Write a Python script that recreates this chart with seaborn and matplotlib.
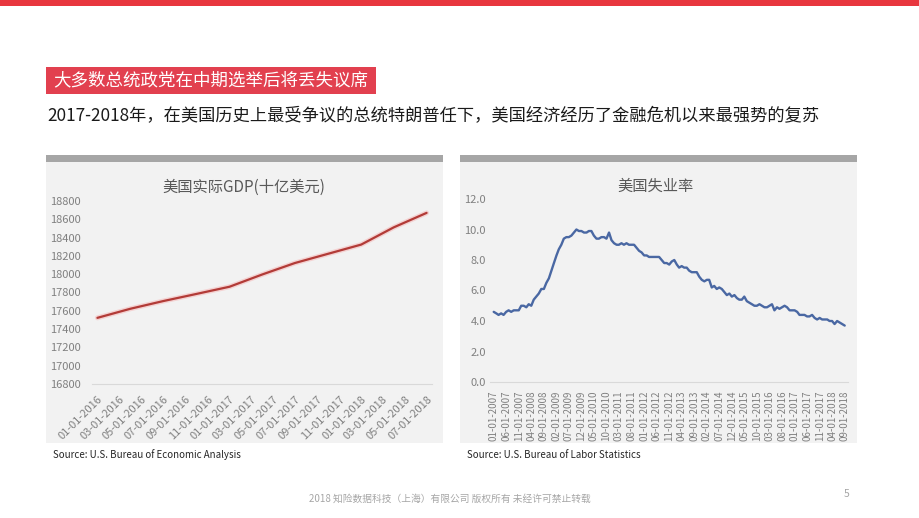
import matplotlib
matplotlib.use("Agg")
import matplotlib.pyplot as plt
import matplotlib.dates as mdates
import matplotlib.ticker as mticker
from matplotlib.patches import Rectangle
import seaborn as sns
import pandas as pd

# ---------------- data ----------------
gdp_dates = ["2016-01-01", "2016-04-01", "2016-07-01", "2016-10-01",
             "2017-01-01", "2017-04-01", "2017-07-01", "2017-10-01",
             "2018-01-01", "2018-04-01", "2018-07-01"]
gdp_values = [17523, 17622, 17706, 17784, 17863, 17996, 18122, 18223,
              18324, 18512, 18670]
gdp_yticks = [16800, 17000, 17200, 17400, 17600, 17800, 18000, 18200,
              18400, 18600, 18800]

unrate_start = "2007-01-01"
unrate_values = [
    4.6, 4.5, 4.4, 4.5, 4.4, 4.6, 4.7, 4.6, 4.7, 4.7, 4.7, 5.0,   # 2007
    5.0, 4.9, 5.1, 5.0, 5.4, 5.6, 5.8, 6.1, 6.1, 6.5, 6.8, 7.3,   # 2008
    7.8, 8.3, 8.7, 9.0, 9.4, 9.5, 9.5, 9.6, 9.8, 10.0, 9.9, 9.9,  # 2009
    9.8, 9.8, 9.9, 9.9, 9.6, 9.4, 9.4, 9.5, 9.5, 9.4, 9.8, 9.3,   # 2010
    9.1, 9.0, 9.0, 9.1, 9.0, 9.1, 9.0, 9.0, 9.0, 8.8, 8.6, 8.5,   # 2011
    8.3, 8.3, 8.2, 8.2, 8.2, 8.2, 8.2, 8.0, 7.8, 7.8, 7.7, 7.9,   # 2012
    8.0, 7.7, 7.5, 7.6, 7.5, 7.5, 7.3, 7.2, 7.2, 7.2, 6.9, 6.7,   # 2013
    6.6, 6.7, 6.7, 6.2, 6.3, 6.1, 6.2, 6.1, 5.9, 5.7, 5.8, 5.6,   # 2014
    5.7, 5.5, 5.4, 5.4, 5.6, 5.3, 5.2, 5.1, 5.0, 5.0, 5.1, 5.0,   # 2015
    4.9, 4.9, 5.0, 5.1, 4.7, 4.9, 4.8, 4.9, 5.0, 4.9, 4.7, 4.7,   # 2016
    4.7, 4.6, 4.4, 4.4, 4.4, 4.3, 4.3, 4.4, 4.2, 4.1, 4.2, 4.1,   # 2017
    4.1, 4.1, 4.0, 4.0, 3.8, 4.0, 3.9, 3.8, 3.7,                  # 2018
]
unrate_yticks = [0, 2, 4, 6, 8, 10, 12]

header_tag = "大多数总统政党在中期选举后将丢失议席"
subtitle = "2017-2018年，在美国历史上最受争议的总统特朗普任下，美国经济经历了金融危机以来最强势的复苏"
title_gdp = "美国实际GDP(十亿美元)"
title_unrate = "美国失业率"
source_gdp = "Source: U.S. Bureau of Economic Analysis"
source_unrate = "Source: U.S. Bureau of Labor Statistics"
footer = "2018 知险数据科技（上海）有限公司 版权所有 未经许可禁止转载"
page_no = "5"

# ---------------- style ----------------
sns.set_theme(style="white")
plt.rcParams["font.family"] = ["Noto Sans CJK SC", "DejaVu Sans"]

W, H = 920, 518
fig = plt.figure(figsize=(W / 100, H / 100), dpi=100)
fig.patch.set_facecolor("white")


def fx(x):
    return x / W


def fy(y):
    return 1 - y / H


def rect_px(x0, y0, x1, y1, color):
    fig.patches.append(Rectangle((fx(x0), fy(y1)), (x1 - x0) / W, (y1 - y0) / H,
                                 transform=fig.transFigure, facecolor=color,
                                 edgecolor="none", zorder=-10))


# top red bar
rect_px(0, 0, W, 6, "#e8363e")
# tag box
rect_px(46, 67, 376, 94, "#e2404f")
fig.text(fx(53), fy(80.5), header_tag, color="white", fontsize=12.6,
         va="center", ha="left")
fig.text(fx(47), fy(116.5), subtitle, color="#1a1a1a", fontsize=12.4,
         va="center", ha="left")

# panels
for (x0, x1) in [(46, 443), (460, 857)]:
    rect_px(x0, 162, x1, 443, "#f2f2f2")
    rect_px(x0, 155, x1, 162, "#a6a6a6")

tick_color = "#808080"

# ---------------- GDP chart ----------------
gdp_df = pd.DataFrame({"date": pd.to_datetime(gdp_dates), "gdp": gdp_values})
ax1 = fig.add_axes([fx(92), fy(384), (432 - 92) / W, (384 - 201) / H])
ax1.set_facecolor("none")
ax1.set_zorder(5)
sns.lineplot(data=gdp_df, x="date", y="gdp", ax=ax1, color="#f4d2d2",
             linewidth=3.6, solid_capstyle="round")
sns.lineplot(data=gdp_df, x="date", y="gdp", ax=ax1, color="#b23b37",
             linewidth=1.6)
ax1.set_ylim(gdp_yticks[0], gdp_yticks[-1])
ax1.set_yticks(gdp_yticks)
ax1.set_xlim(gdp_df["date"].iloc[0] - pd.Timedelta(days=15),
             gdp_df["date"].iloc[-1] + pd.Timedelta(days=15))
ax1.xaxis.set_major_locator(mdates.MonthLocator(interval=2))
ax1.xaxis.set_major_formatter(mdates.DateFormatter("%m-%d-%Y"))
ax1.tick_params(axis="y", labelsize=8, colors=tick_color, length=0, pad=8)
ax1.tick_params(axis="x", labelsize=8, colors=tick_color, length=3,
                width=0.6, color="#d9d9d9", pad=4)
for lbl in ax1.get_xticklabels():
    lbl.set_rotation(45)
    lbl.set_ha("right")
    lbl.set_rotation_mode("anchor")
ax1.set_xlabel("")
ax1.set_ylabel("")
for s in ["top", "right", "left"]:
    ax1.spines[s].set_visible(False)
ax1.spines["bottom"].set_color("#d9d9d9")
ax1.spines["bottom"].set_linewidth(0.8)
ax1.grid(False)
fig.text(fx(244), fy(187), title_gdp, fontsize=11, color="#595959",
         ha="center", va="center", fontweight="medium")
fig.text(fx(53), fy(455), source_gdp, fontsize=7, color="#262626",
         ha="left", va="center")

# ---------------- Unemployment chart ----------------
un_dates = pd.date_range(unrate_start, periods=len(unrate_values), freq="MS")
un_df = pd.DataFrame({"date": un_dates, "rate": unrate_values})
ax2 = fig.add_axes([fx(490), fy(382), (848 - 490) / W, (382 - 199) / H])
ax2.set_facecolor("none")
ax2.set_zorder(5)
sns.lineplot(data=un_df, x="date", y="rate", ax=ax2, color="#4a68a3",
             linewidth=1.7)
ax2.set_ylim(unrate_yticks[0], unrate_yticks[-1])
ax2.set_yticks(unrate_yticks)
ax2.yaxis.set_major_formatter(mticker.FormatStrFormatter("%.1f"))
ax2.set_xlim(un_dates[0] - pd.Timedelta(days=45),
             un_dates[-1] + pd.Timedelta(days=40))
ax2.set_xticks(pd.date_range(unrate_start, un_dates[-1], freq="5MS"))
ax2.xaxis.set_major_formatter(mdates.DateFormatter("%m-%d-%Y"))
ax2.tick_params(axis="y", labelsize=8, colors=tick_color, length=0, pad=3)
ax2.tick_params(axis="x", labelsize=7, colors=tick_color, length=3,
                width=0.6, color="#d9d9d9", pad=3, labelrotation=90)
ax2.set_xlabel("")
ax2.set_ylabel("")
for s in ["top", "right", "left"]:
    ax2.spines[s].set_visible(False)
ax2.spines["bottom"].set_color("#d9d9d9")
ax2.spines["bottom"].set_linewidth(0.8)
ax2.grid(False)
fig.text(fx(656), fy(186), title_unrate, fontsize=11, color="#595959",
         ha="center", va="center", fontweight="medium")
fig.text(fx(467), fy(455), source_unrate, fontsize=7, color="#262626",
         ha="left", va="center")

# footer
fig.text(fx(450), fy(499), footer, fontsize=7, color="#a6a6a6",
         ha="center", va="center")
fig.text(fx(847), fy(494), page_no, fontsize=7.5, color="#a6a6a6",
         ha="center", va="center")

fig.savefig("out.png", dpi=100, facecolor="white")
